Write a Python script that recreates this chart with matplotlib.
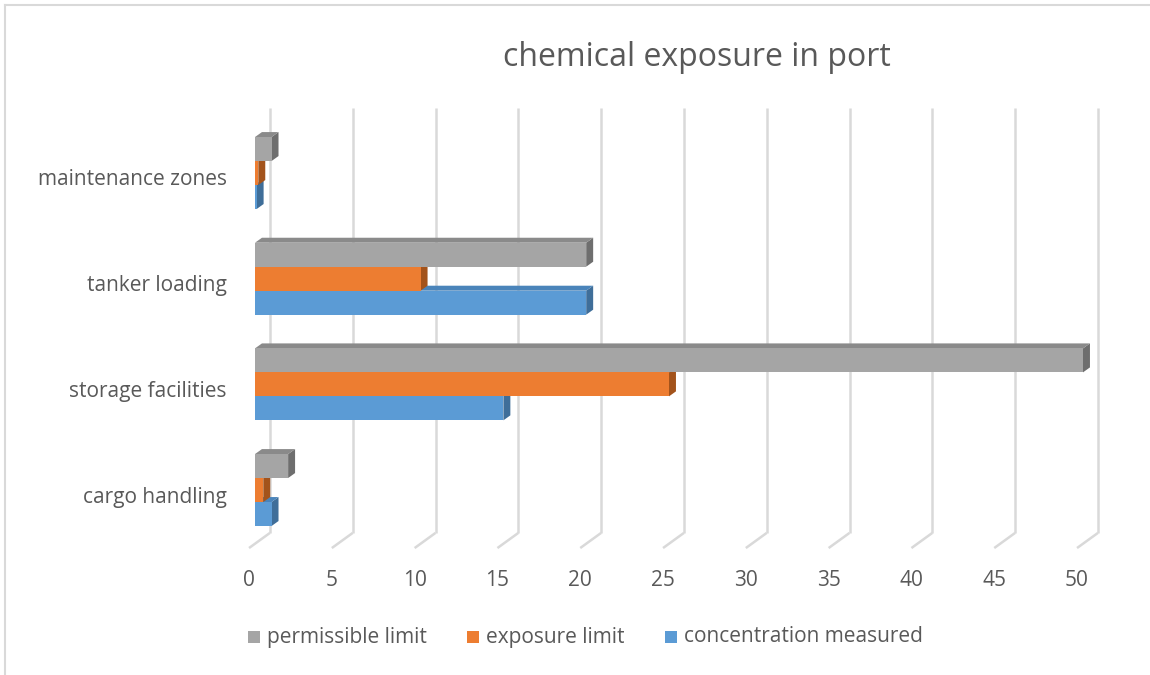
import matplotlib.pyplot as plt
from matplotlib.patches import Polygon, Rectangle
from matplotlib.lines import Line2D

# data
categories = ['cargo handling', 'storage facilities', 'tanker loading', 'maintenance zones']
concentration_measured = [1, 15, 20, 0.1]
exposure_limit = [0.5, 25, 10, 0.2]
permissible_limit = [2, 50, 20, 1]
x_ticks = [0, 5, 10, 15, 20, 25, 30, 35, 40, 45, 50]

# (name, values, front, top, side) drawn bottom-up so upper bars cover lower tops
series = [
    ('concentration measured', concentration_measured, '#5B9BD5', '#4A84BA', '#3F6E99'),
    ('exposure limit', exposure_limit, '#ED7D31', '#C4621F', '#A3531B'),
    ('permissible limit', permissible_limit, '#A5A5A5', '#8A8A8A', '#6E6E6E'),
]

plt.rcParams['font.family'] = ['Open Sans', 'DejaVu Sans']
text_color = '#595959'
grid_color = '#D9D9D9'

W, H = 1150, 675
fig = plt.figure(figsize=(W / 100, H / 100), dpi=100)

# axes laid out so one value unit = 16.56 px and one category = 105.7 px
xmin, xmax = -1.5, 52.0
ymin, ymax = -0.75, 3.9
ax_left_px = 255 - 1.5 * 16.56
ax_w_px = (xmax - xmin) * 16.56
ax_bottom_px = 497 + 0.75 * 105.67
ax_h_px = (ymax - ymin) * 105.67
ax = fig.add_axes([ax_left_px / W, 1 - ax_bottom_px / H, ax_w_px / W, ax_h_px / H])
ax.set_xlim(xmin, xmax)
ax.set_ylim(ymin, ymax)
ax.axis('off')

# 3d offsets in data units
floor_front_dx, floor_front_y = -0.36, -0.483
wall_dx, floor_back_y = 0.9, -0.34
wall_top = 3.68
depth_dx, depth_dy = 0.42, 0.047
bar_h = 0.227
group_shift = 0.066

# back wall gridlines and floor lines
for t in x_ticks:
    ax.plot([t + wall_dx, t + wall_dx], [floor_back_y, wall_top],
            color=grid_color, lw=1.8, zorder=1, solid_capstyle='butt')
    ax.plot([t + floor_front_dx, t + wall_dx], [floor_front_y, floor_back_y],
            color=grid_color, lw=1.8, zorder=1, solid_capstyle='butt')
    ax.text(t + floor_front_dx, -0.79, str(t), ha='center', va='center',
            fontsize=15, color=text_color)

# bars
for k, (name, vals, front, top, side) in enumerate(series):
    offset = group_shift + (k - 1) * bar_h
    z = 3 + k
    for i, v in enumerate(vals):
        y0 = i + offset - bar_h / 2
        y1 = y0 + bar_h
        side_face = Polygon([(v, y0), (v + depth_dx, y0 + depth_dy),
                             (v + depth_dx, y1 + depth_dy), (v, y1)],
                            closed=True, facecolor=side, edgecolor='none', zorder=z)
        top_face = Polygon([(0, y1), (depth_dx, y1 + depth_dy),
                            (v + depth_dx, y1 + depth_dy), (v, y1)],
                           closed=True, facecolor=top, edgecolor='none', zorder=z)
        ax.add_patch(side_face)
        ax.add_patch(top_face)
    ax.barh([i + offset for i in range(len(vals))], vals, left=0, height=bar_h,
            color=front, edgecolor='none', zorder=z)

# category labels
for i, c in enumerate(categories):
    ax.text(-1.7, i, c, ha='right', va='center', fontsize=15, color=text_color,
            clip_on=False)

fig.text(697 / W, 1 - 57 / H, 'chemical exposure in port', ha='center', va='center',
         fontsize=23, color=text_color)

# legend row
legend_items = [(permissible_limit, '#A5A5A5', 'permissible limit', 248),
                (exposure_limit, '#ED7D31', 'exposure limit', 467),
                (concentration_measured, '#5B9BD5', 'concentration measured', 665)]
for _, color, label, px in legend_items:
    fig.patches.append(Rectangle((px / W, 1 - 643 / H), 12 / W, 12 / H,
                                 transform=fig.transFigure, facecolor=color,
                                 edgecolor='none'))
    fig.text((px + 19) / W, 1 - 637 / H, label, ha='left', va='center',
             fontsize=15, color=text_color)

# chart border (only top and left visible)
fig.lines.append(Line2D([5 / W, 5 / W], [0, 1 - 5 / H], transform=fig.transFigure,
                        color='#D9D9D9', lw=1.5))
fig.lines.append(Line2D([5 / W, 1], [1 - 5 / H, 1 - 5 / H], transform=fig.transFigure,
                        color='#D9D9D9', lw=1.5))

fig.savefig('out.png', dpi=100, facecolor='white')
